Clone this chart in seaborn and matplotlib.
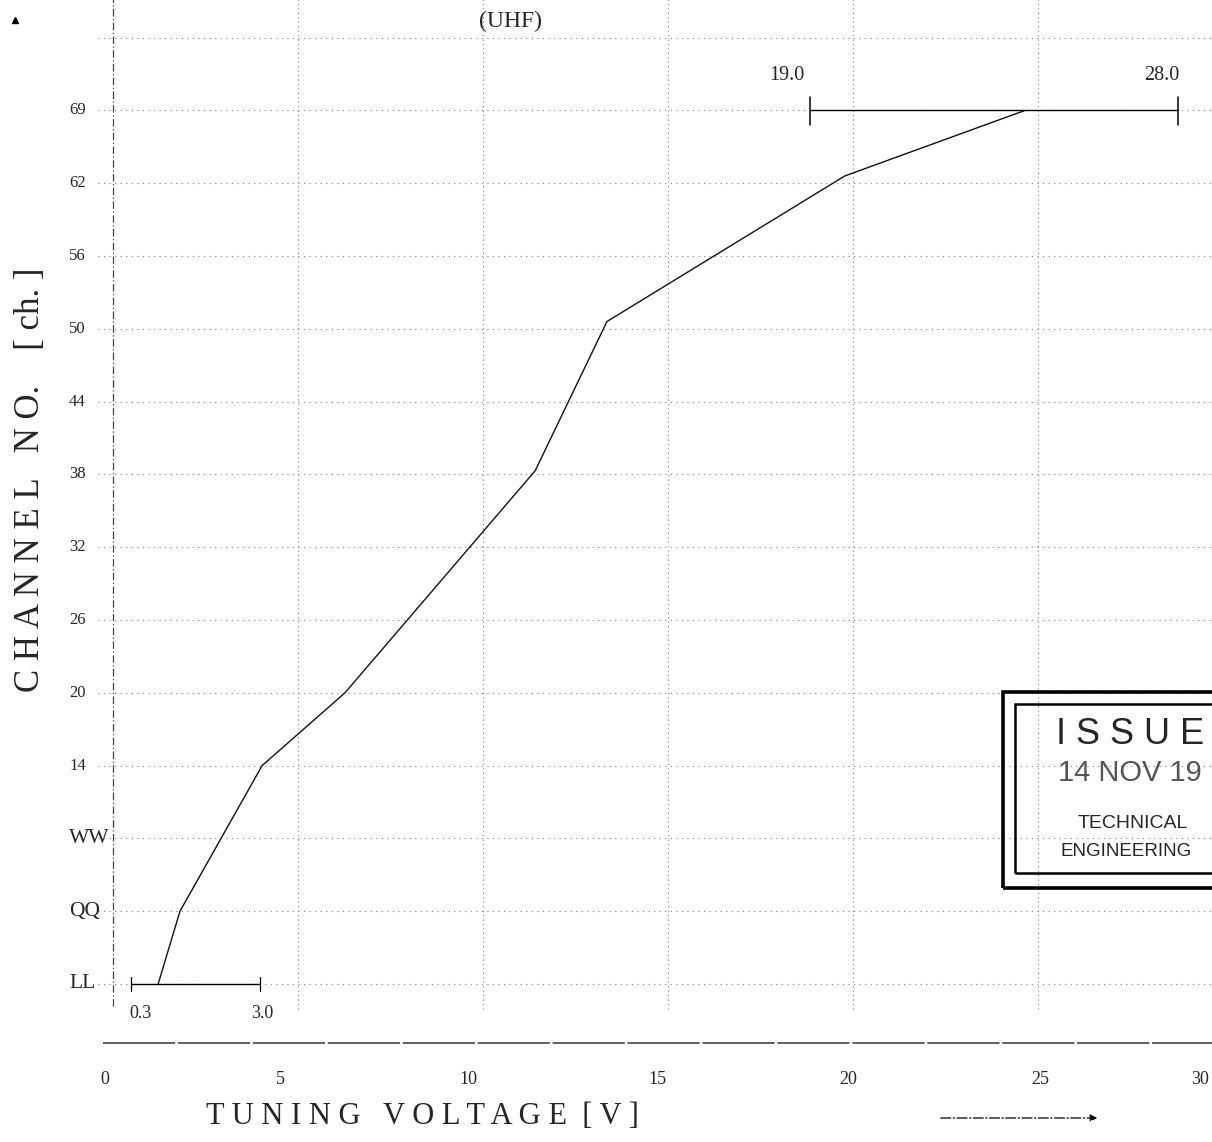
import matplotlib
matplotlib.use('Agg')
import matplotlib.pyplot as plt
import matplotlib.patches as mpatches
import seaborn as sns

# Channel axis (evenly spaced categories, bottom to top)
channels = ['LL', 'QQ', 'WW', '14', '20', '26', '32', '38', '44', '50', '56', '62', '69']
volt_ticks = [0, 5, 10, 15, 20, 25, 30]

# Tuning curve (voltage, channel position)
curve_voltage = [1.22, 1.81, 4.03, 6.27, 11.41, 13.35, 19.78, 24.65]
curve_channel = [0.0, 1.0, 3.0, 4.0, 7.05, 9.1, 11.1, 12.0]

# Tuning range bars
low_range = [0.49, 3.97]
low_labels = ['0.3', '3.0']
high_range = [18.84, 28.78]
high_labels = ['19.0', '28.0']

W, H = 1212, 1142
X0, PX_V = 113, 37.0      # pixel of 0 V, pixels per volt
Y0, PX_CH = 984, 72.8     # pixel of LL, pixels per channel step
# printed x labels sit a little left of their grid lines
XLAB_SHIFT = [-8, -18, -15, -11, -5, 2, -23]

sns.set_style('white')
plt.rcParams['font.family'] = ['Liberation Serif', 'DejaVu Serif']

fig = plt.figure(figsize=(W / 100, H / 100), dpi=100)
ax = fig.add_axes([0, 0, 1, 1])
ax.set_xlim(-X0 / PX_V, (W - X0) / PX_V)
ax.set_ylim((Y0 - H) / PX_CH, Y0 / PX_CH)
ax.axis('off')


def fx(xp):
    return xp / W


def fy(yp):
    return 1 - yp / H


grid_col = '#808080'
# horizontal grid, one per channel plus one above the last
for i in range(len(channels) + 1):
    ax.plot([-0.4, 29.7], [i, i], color=grid_col, lw=0.8, ls=(0, (1, 4)))
# vertical grid
for v in volt_ticks[1:]:
    ax.plot([v, v], [-0.35, 13.6], color=grid_col, lw=0.8, ls=(0, (1, 3)))
# left axis (dash-dot)
ax.plot([0, 0], [-0.3, 13.6], color='#444444', lw=0.9, ls=(0, (6, 2, 1, 2)))
# bottom axis line
ax.plot([-0.27, 29.7], [-0.81, -0.81], color='#555555', lw=1.3, ls=(0, (40, 1.5)))

# the curve
sns.lineplot(x=curve_voltage, y=curve_channel, sort=False, color='#111111',
             lw=1.0, ax=ax, legend=False)

# range bars
ax.plot(low_range, [0, 0], color='black', lw=1.0)
for v in low_range:
    ax.plot([v, v], [-0.1, 0.1], color='black', lw=0.9)
ax.plot(high_range, [12, 12], color='black', lw=1.0)
for v in high_range:
    ax.plot([v, v], [11.8, 12.18], color='black', lw=1.1)

# y tick labels
for i, lab in enumerate(channels):
    size = 12 if lab.isdigit() else 15.5
    ax.text(-44 / PX_V, i, lab, ha='left', va='center', fontsize=size)

# x tick labels
for v, dx in zip(volt_ticks, XLAB_SHIFT):
    fig.text(fx(X0 + v * PX_V + dx), fy(1080), str(v), ha='center', va='center',
             fontsize=13)

# range labels
fig.text(fx(140), fy(1014), low_labels[0], ha='center', va='center', fontsize=13)
fig.text(fx(262), fy(1014), low_labels[1], ha='center', va='center', fontsize=13)
fig.text(fx(787), fy(76), high_labels[0], ha='center', va='center', fontsize=14.5)
fig.text(fx(1162), fy(76), high_labels[1], ha='center', va='center', fontsize=14.5)

fig.text(fx(511), fy(21), '(UHF)', ha='center', va='center', fontsize=17)

# axis titles
fig.text(fx(422), fy(1117), 'T U N I N G   V O L T A G E  [ V ]',
         ha='center', va='center', fontsize=22)
fig.text(fx(31), fy(480), 'C H A N N E L   N O.    [ ch. ]',
         ha='center', va='center', fontsize=25, rotation=90)

# direction arrows
ax.annotate('', xy=((1100 - X0) / PX_V, (Y0 - 1118) / PX_CH),
            xytext=((938 - X0) / PX_V, (Y0 - 1118) / PX_CH),
            arrowprops=dict(arrowstyle='-|>', color='black', lw=0.9,
                            ls=(0, (8, 2, 1, 2)), mutation_scale=10))
ax.plot([(15 - X0) / PX_V], [(Y0 - 20) / PX_CH], marker='^', color='black', ms=5)

# received stamp
stamp_kw = dict(fill=False, edgecolor='black', transform=fig.transFigure, clip_on=False)
fig.patches.append(mpatches.Rectangle((fx(1003), fy(888)), fx(400), (888 - 692) / H,
                                      lw=2.6, **stamp_kw))
fig.patches.append(mpatches.Rectangle((fx(1015), fy(873)), fx(400), (873 - 704) / H,
                                      lw=1.8, **stamp_kw))
sans = ['Liberation Sans', 'DejaVu Sans']
fig.text(fx(1056), fy(735), 'I S S U E', ha='left', va='center', fontsize=26,
         family=sans)
fig.text(fx(1058), fy(773), '14 NOV 19', ha='left', va='center', fontsize=21,
         family=sans, color='#555555')
fig.text(fx(1078), fy(823), 'TECHNICAL', ha='left', va='center', fontsize=14,
         family=sans)
fig.text(fx(1061), fy(851), 'ENGINEERING', ha='left', va='center', fontsize=13.5,
         family=sans)

fig.savefig('out.png', dpi=100)
